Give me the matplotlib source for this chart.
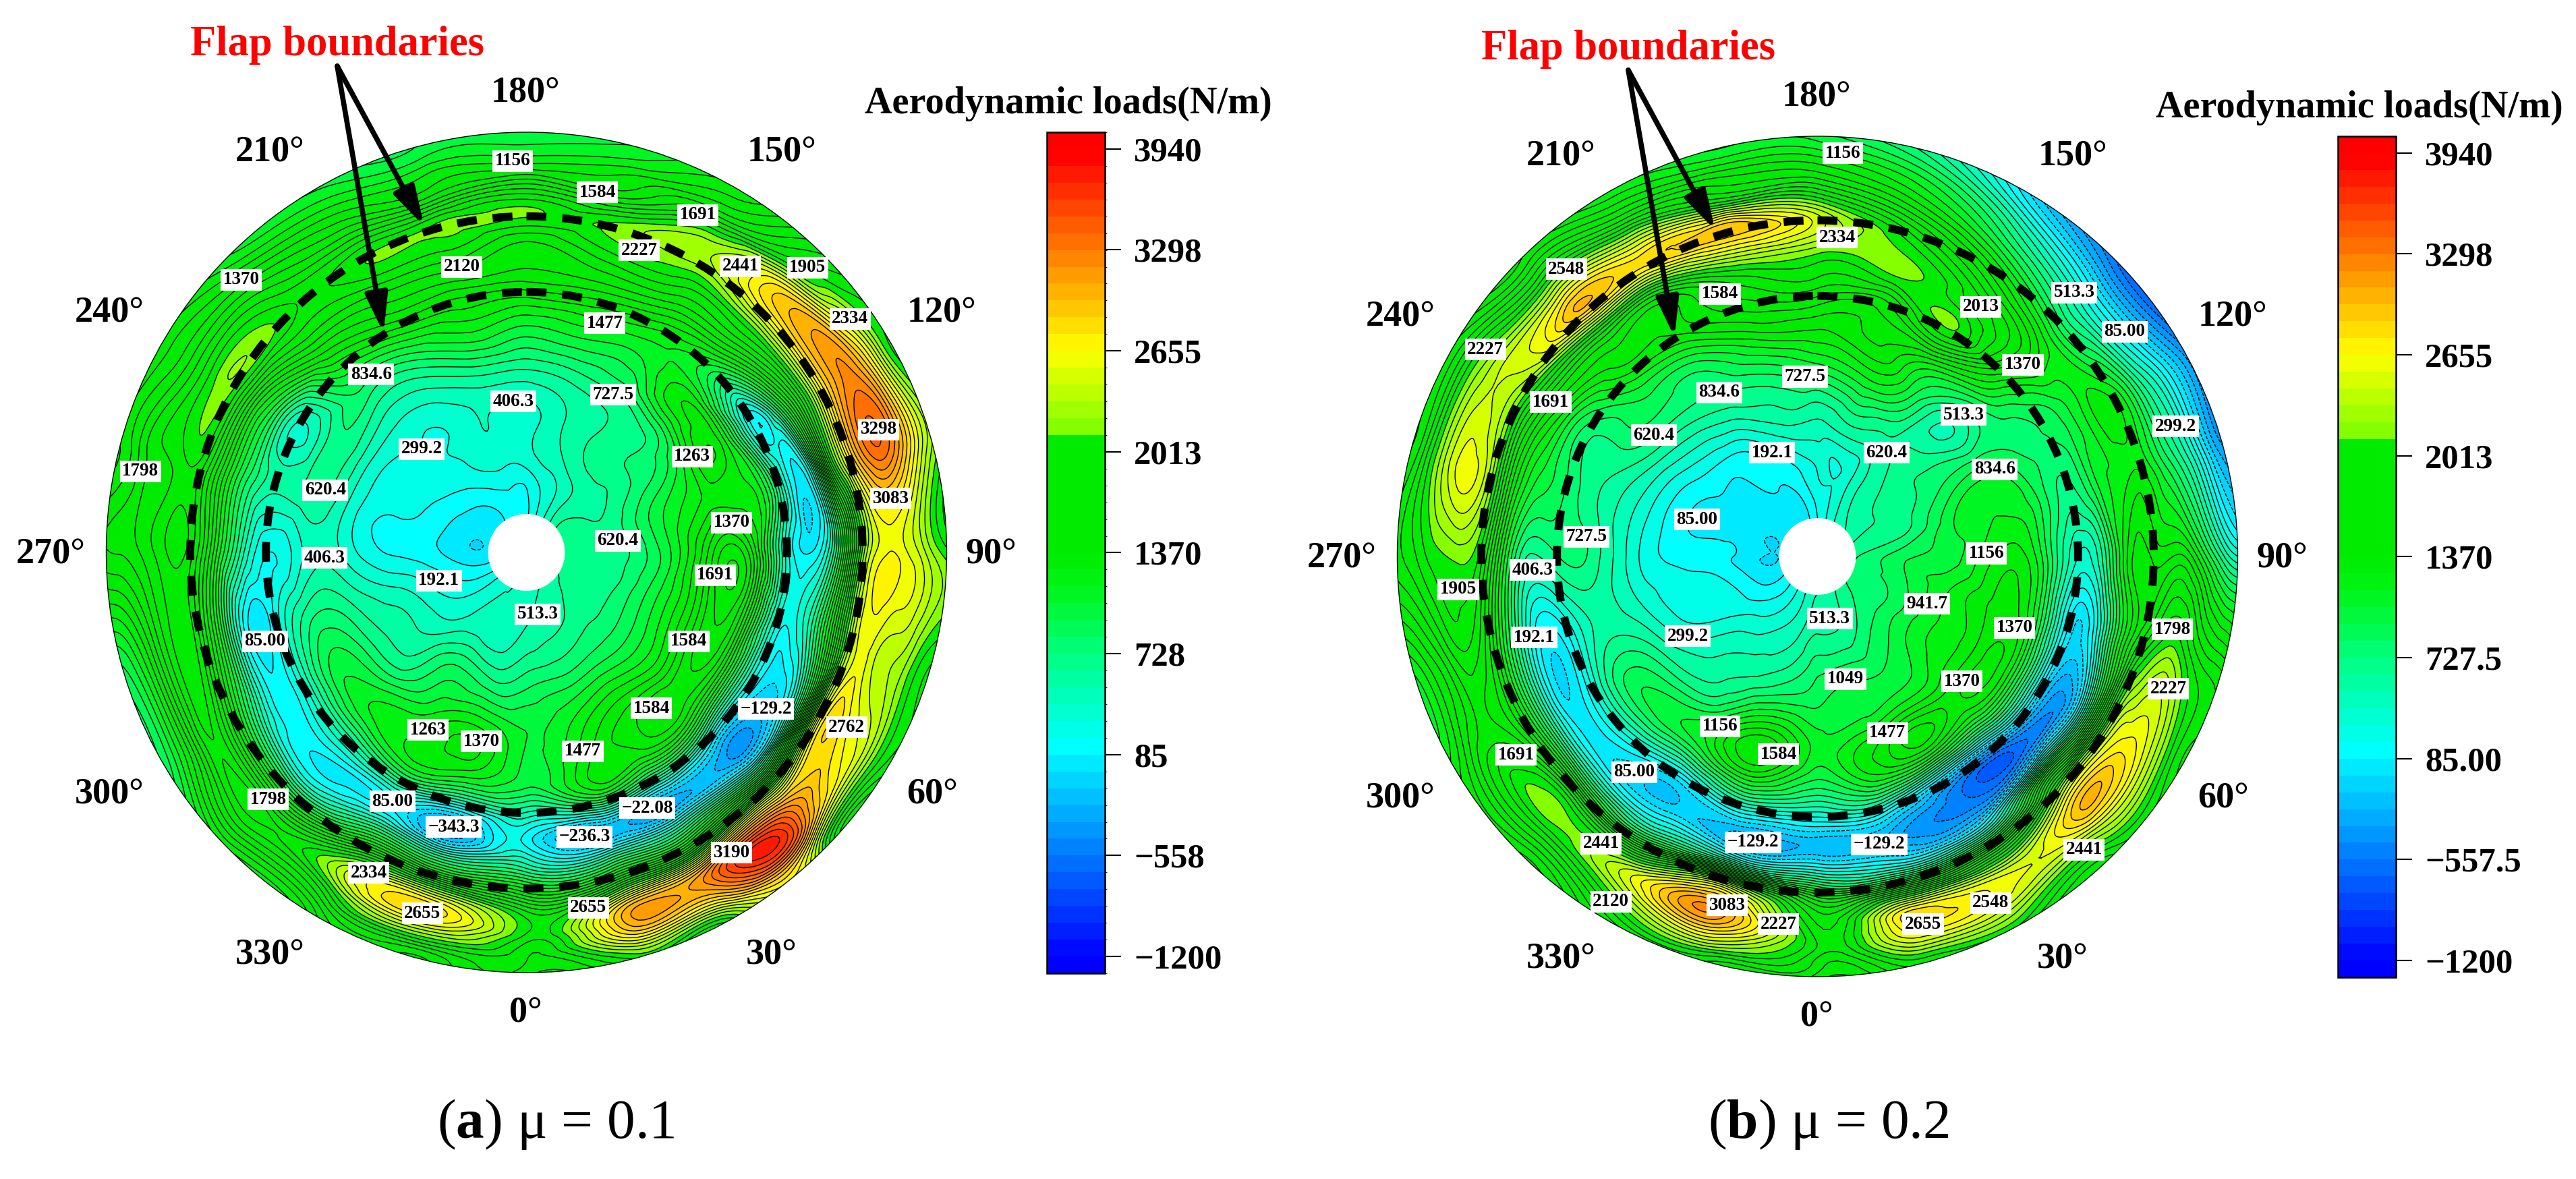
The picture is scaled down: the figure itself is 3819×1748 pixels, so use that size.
import matplotlib
matplotlib.use('Agg')
import matplotlib.pyplot as plt
import matplotlib.tri as mtri
import numpy as np
from matplotlib.cm import ScalarMappable
from matplotlib.colors import BoundaryNorm, ListedColormap
from matplotlib.patches import Circle

plt.rcParams['font.family'] = ['Liberation Serif', 'DejaVu Serif']
plt.rcParams['mathtext.fontset'] = 'custom'
plt.rcParams['mathtext.rm'] = 'Liberation Serif'
plt.rcParams['mathtext.bf'] = 'Liberation Serif:bold'

# Stations the loads were read at (radius over R, azimuth in degrees)
R_STATIONS = [0.06, 0.20, 0.32, 0.44, 0.54, 0.62, 0.68, 0.74, 0.80, 0.86, 0.92, 0.97, 1.03]
PSI_STATIONS = list(range(0, 360, 15))

# Loads in N/m, one row per azimuth, mu = 0.1
LOADS_A = [
    [430, 540, 820, 1050, 1000, 500, 150, 500, 1250, 1950, 1950, 1800, 1650],
    [460, 600, 880, 1200, 1350, 800, -220, 350, 1400, 2650, 2950, 2350, 1800],
    [500, 650, 950, 1450, 1480, 600, -300, 400, 1500, 3000, 3150, 2450, 1800],
    [540, 680, 950, 1480, 1500, 250, -360, 300, 1900, 3150, 3350, 2500, 1900],
    [570, 680, 1000, 1584, 1400, 200, -50, 700, 2500, 2750, 2500, 2050, 1800],
    [600, 660, 1000, 1650, 1500, 300, 400, 1200, 2350, 2500, 2350, 2050, 1850],
    [620, 660, 950, 1650, 1560, 350, 90, 800, 2150, 2650, 2500, 2200, 1950],
    [620, 650, 1000, 1300, 1300, 600, 30, 1400, 2650, 3300, 3050, 2500, 2000],
    [600, 600, 800, 1220, 1280, 150, 700, 1700, 2650, 3190, 2900, 2250, 1900],
    [500, 560, 720, 950, 1300, 1000, 1500, 1950, 2600, 2900, 2200, 1900, 1700],
    [400, 500, 620, 750, 1050, 1300, 1650, 1950, 2250, 2230, 1700, 1400, 1200],
    [300, 400, 500, 700, 1100, 1450, 1750, 2000, 2150, 1700, 1400, 1150, 1000],
    [200, 300, 370, 640, 1050, 1450, 1700, 1800, 2130, 1850, 1300, 1050, 900],
    [200, 280, 400, 640, 1150, 1450, 1750, 2000, 2150, 1650, 1300, 1050, 900],
    [150, 250, 330, 480, 900, 1400, 1680, 1950, 2100, 1750, 1400, 1150, 950],
    [120, 170, 290, 420, 780, 1150, 1500, 1850, 2050, 1900, 1600, 1300, 1050],
    [100, 120, 240, 450, 650, 400, 900, 1500, 2150, 2050, 1700, 1500, 1300],
    [80, 80, 190, 400, 620, 550, 800, 1350, 1950, 1950, 1850, 1600, 1400],
    [80, 80, 180, 400, 380, 200, 600, 1300, 1950, 2000, 1800, 1700, 1650],
    [120, 190, 406, 620, 650, 200, 50, 900, 1750, 1950, 1500, 1100, 900],
    [200, 280, 520, 780, 950, 350, 120, 600, 1350, 1900, 1500, 1050, 750],
    [300, 380, 620, 900, 1130, 500, 100, 200, 1000, 1800, 1850, 1500, 1050],
    [380, 450, 850, 1150, 1300, 700, 100, 600, 1500, 2334, 2100, 1650, 1350],
    [400, 450, 750, 1300, 1250, 350, -340, 400, 1500, 2700, 2500, 1800, 1500],
]

# Loads in N/m, one row per azimuth, mu = 0.2
LOADS_B = [
    [500, 650, 880, 1100, 900, 300, -200, 200, 1200, 1750, 1900, 1750, 1550],
    [550, 650, 950, 1200, 1250, 300, -250, 0, 1150, 2600, 2700, 2200, 1700],
    [600, 750, 950, 1400, 1300, -250, -520, -100, 1200, 2350, 2560, 2200, 1750],
    [650, 850, 1080, 1370, 1150, -250, -550, 900, 2150, 2900, 2500, 2000, 1700],
    [700, 850, 1150, 1400, 1200, 0, -350, 700, 2200, 2655, 2400, 1950, 1700],
    [700, 900, 1150, 1400, 1080, 80, 200, 1100, 1750, 2150, 1900, 1700, 1550],
    [650, 900, 1000, 1300, 1000, 400, 650, 1400, 1450, 1500, 1100, 600, 300],
    [600, 700, 1000, 1150, 950, 700, 1000, 1200, 1250, 900, 450, -100, -450],
    [550, 650, 800, 900, 800, 850, 1000, 1250, 1200, 700, 200, -200, -650],
    [450, 620, 680, 500, 1000, 1400, 1550, 1350, 900, 500, 50, -350, -700],
    [400, 500, 600, 950, 1350, 2100, 2000, 1800, 1450, 1000, 600, 200, -150],
    [300, 300, 620, 1150, 1500, 1650, 2050, 2150, 1950, 1500, 1150, 850, 550],
    [200, 300, 500, 950, 1370, 1700, 1950, 2250, 2500, 1950, 1450, 1150, 900],
    [100, 150, 500, 800, 1300, 1650, 1850, 2350, 2950, 2150, 1550, 1200, 950],
    [60, 100, 300, 700, 950, 1400, 1450, 1850, 2750, 2500, 1750, 1350, 1050],
    [50, 50, 190, 620, 900, 1250, 1450, 1800, 2800, 2700, 2000, 1550, 1250],
    [50, 50, 130, 500, 750, 800, 1150, 1600, 2200, 2450, 2200, 1800, 1450],
    [50, 50, 85, 380, 620, 830, 1000, 1400, 2250, 2600, 2300, 1800, 1500],
    [60, 85, 150, 350, 700, 720, 600, 1100, 1950, 2150, 2050, 1850, 1700],
    [100, 150, 220, 420, 550, 250, 100, 700, 1500, 1900, 1650, 1350, 1100],
    [180, 200, 300, 620, 800, 300, -20, 500, 1350, 1750, 1750, 1450, 1200],
    [250, 300, 500, 750, 950, 300, -20, 400, 1500, 2150, 1950, 1550, 1250],
    [350, 400, 600, 1050, 1050, 100, -130, 300, 1300, 2400, 2350, 1950, 1600],
    [450, 500, 750, 1450, 1300, 400, -250, 200, 2000, 3050, 2800, 2100, 1650],
]

BAR_TICKS = [-1200, -557.5, 85, 727.5, 1370, 2013, 2655, 3298, 3940]
BAR_TICK_LABELS = ['\u22121200', '\u2212557.5', '85.00', '727.5', '1370', '2013', '2655', '3298', '3940']
FLAP_RADII = [0.62, 0.80]
HUB_RADIUS = 0.0915

ANGLE_LABELS = ['180°', '150°', '120°', '90°', '60°', '30°', '0°', '330°', '300°', '270°', '240°', '210°']
ANGLE_POS = [(779, 139), (1159, 226), (1396, 464), (1469, 822), (1382, 1178), (1144, 1416),
             (779, 1503), (400, 1416), (162, 1178), (75, 822), (162, 464), (400, 226)]

# Contour label text with its place in the 1568 wide zoom of each panel
LABELS_A = [
    ('1156', 627, 214), ('1584', 731, 256), ('1691', 854, 286), ('2227', 782, 333), ('2441', 906, 354),
    ('1905', 988, 356), ('2120', 565, 355), ('1370', 295, 372), ('2334', 1040, 424), ('1477', 740, 430),
    ('834.6', 454, 498), ('406.3', 628, 534), ('727.5', 750, 525), ('3298', 1075, 571), ('299.2', 516, 597),
    ('1263', 847, 607), ('1798', 172, 627), ('620.4', 398, 652), ('3083', 1090, 663), ('1370', 895, 695),
    ('620.4', 756, 719), ('406.3', 397, 742), ('192.1', 537, 772), ('1691', 875, 765), ('513.3', 658, 817),
    ('85.00', 324, 853), ('1584', 843, 853), ('\u2212129.2', 937, 943), ('1584', 797, 942), ('2762', 1036, 967),
    ('1263', 524, 971), ('1370', 589, 986), ('1477', 713, 999), ('85.00', 480, 1066), ('\u221222.08', 792, 1075),
    ('1798', 328, 1063), ('\u2212343.3', 555, 1100), ('\u2212236.3', 715, 1113), ('3190', 895, 1134),
    ('2334', 451, 1161), ('2655', 720, 1207), ('2655', 517, 1215),
]
LABELS_B = [
    ('1156', 680, 204), ('2334', 673, 316), ('2548', 345, 358), ('513.3', 960, 389), ('1584', 531, 391),
    ('2013', 847, 408), ('85.00', 1021, 441), ('2227', 247, 465), ('1370', 898, 485), ('727.5', 634, 501),
    ('834.6', 530, 522), ('1691', 326, 535), ('299.2', 1083, 567), ('513.3', 826, 552), ('620.4', 451, 579),
    ('192.1', 594, 602), ('620.4', 733, 602), ('834.6', 864, 624), ('85.00', 503, 691), ('727.5', 369, 714),
    ('1156', 854, 736), ('406.3', 304, 758), ('1905', 214, 784), ('941.7', 782, 803), ('513.3', 664, 823),
    ('1370', 888, 835), ('1798', 1079, 837), ('299.2', 492, 846), ('192.1', 306, 848), ('1049', 683, 903),
    ('1370', 824, 906), ('2227', 1074, 916), ('1156', 531, 966), ('1477', 734, 975), ('1691', 284, 1004),
    ('1584', 602, 1003), ('85.00', 427, 1027), ('\u2212129.2', 571, 1120), ('\u2212129.2', 724, 1123),
    ('2441', 387, 1122), ('2441', 972, 1130), ('2120', 399, 1199), ('2548', 859, 1201), ('3083', 540, 1204),
    ('2227', 602, 1229), ('2655', 777, 1229),
]

W, H = 3819, 1748
RADIUS = 623
CENTER_A = (780.5, 819)
SHIFT_B = (1914, 6)

# Contour levels step by 107.08 either side of 85
LEVELS = 85 + 107.08 * np.arange(-13, 38)


# Tecplot style rainbow with the jump to lime above 2120
def make_cmap():
    anchors = [
        (-1307, (0, 0, 255)), (-1200, (0, 0, 255)), (-557, (0, 120, 255)), (140, (0, 255, 255)),
        (727, (0, 255, 128)), (1156, (0, 245, 20)), (1370, (0, 235, 0)), (2120, (0, 235, 0)),
        (2121, (120, 255, 0)), (2655, (255, 255, 0)), (3900, (255, 0, 0)), (4047, (255, 0, 0)),
    ]
    vals = [a[0] for a in anchors]
    mids = 0.5 * (LEVELS[:-1] + LEVELS[1:])
    rgb = np.column_stack([np.interp(mids, vals, [a[1][i] for a in anchors]) for i in range(3)]) / 255
    return ListedColormap(rgb).with_extremes(under=(0, 0, 1), over=(1, 0, 0))


CMAP = make_cmap()
NORM = BoundaryNorm(LEVELS, CMAP.N)


def draw_disc(ax, cx, cy, loads):
    psi, rad = np.meshgrid(np.radians(PSI_STATIONS), R_STATIONS, indexing='ij')
    x = cx + RADIUS * rad * np.sin(psi)
    y = cy + RADIUS * rad * np.cos(psi)
    z = np.array(loads, dtype=float)

    tri = mtri.Triangulation(x.ravel(), y.ravel())
    interp = mtri.CubicTriInterpolator(tri, z.ravel(), kind='min_E')
    fine, z_fine = mtri.UniformTriRefiner(tri).refine_field(z.ravel(), interp, subdiv=4)

    rim = Circle((cx, cy), RADIUS, fc='none', ec='black', lw=1.0, zorder=4)
    ax.add_patch(rim)
    fill = ax.tricontourf(fine, z_fine, levels=LEVELS, cmap=CMAP, norm=NORM, extend='both', zorder=1)
    fill.set_clip_path(rim)
    lines = ax.tricontour(fine, z_fine, levels=LEVELS, colors='black', linewidths=1.0, zorder=2)
    lines.set_clip_path(rim)

    ax.add_patch(Circle((cx, cy), RADIUS * HUB_RADIUS, fc='white', ec='none', zorder=3))
    for r in FLAP_RADII:
        ax.add_patch(Circle((cx, cy), RADIUS * r, fc='none', ec='black', lw=8.5,
                            linestyle=(0, (2.5, 2.0)), zorder=5))


def draw_bar(fig, left, top):
    cax = fig.add_axes([left / W, 1 - (top + 1247) / H, 86 / W, 1247 / H])
    bar = fig.colorbar(ScalarMappable(norm=NORM, cmap=CMAP), cax=cax, spacing='proportional', ticks=BAR_TICKS)
    bar.ax.set_yticklabels(BAR_TICK_LABELS)
    bar.ax.tick_params(length=17, width=1.5, pad=14, labelsize=36.5, labelright=True)
    for lab in bar.ax.get_yticklabels():
        lab.set_fontweight('bold')
    bar.ax.minorticks_off()
    bar.outline.set_linewidth(1.8)


def draw_panel(fig, ax, dx, dy, loads, labels, to_px, caption, caption_x):
    draw_disc(ax, CENTER_A[0] + dx, CENTER_A[1] + dy, loads)
    draw_bar(fig, 1552 + dx, 196 + dy)

    for (text, sx, sy) in labels:
        ax.text(to_px(sx), sy * H / 1568, text, fontsize=19.5, fontweight='bold', ha='center', va='center',
                bbox=dict(fc='white', ec='none', pad=2.6), zorder=6)
    for text, (px, py) in zip(ANGLE_LABELS, ANGLE_POS):
        ax.text(px + dx, py + dy, text, fontsize=39, fontweight='bold', ha='center', va='center')

    ax.text(1584 + dx, 154 + dy, 'Aerodynamic loads(N/m)', fontsize=40.5, fontweight='bold', ha='center', va='center')
    ax.text(500 + dx, 67 + dy, 'Flap boundaries', fontsize=45, fontweight='bold', color='red', ha='center', va='center')
    for tip in [(568.6, 494), (628.6, 335)]:
        ax.annotate('', xy=(tip[0] + dx, tip[1] + dy), xytext=(500 + dx, 98 + dy), zorder=7,
                    arrowprops=dict(arrowstyle='-|>,head_length=35,head_width=10', mutation_scale=1,
                                    lw=5.5, color='black', shrinkA=0, shrinkB=0))
    ax.text(caption_x, 1667, caption, fontsize=60, ha='center', va='center')


fig = plt.figure(figsize=(W / 100, H / 100), dpi=100)
ax = fig.add_axes([0, 0, 1, 1])
ax.set_xlim(0, W)
ax.set_ylim(H, 0)
ax.axis('off')

draw_panel(fig, ax, 0, 0, LOADS_A, LABELS_A, lambda s: s * 1900 / 1568,
           r'($\mathbf{a}$) μ = 0.1', 824)
draw_panel(fig, ax, SHIFT_B[0], SHIFT_B[1], LOADS_B, LABELS_B, lambda s: 1900 + s * 1919 / 1568,
           r'($\mathbf{b}$) μ = 0.2', 2711)

fig.savefig('out.png', dpi=100)
